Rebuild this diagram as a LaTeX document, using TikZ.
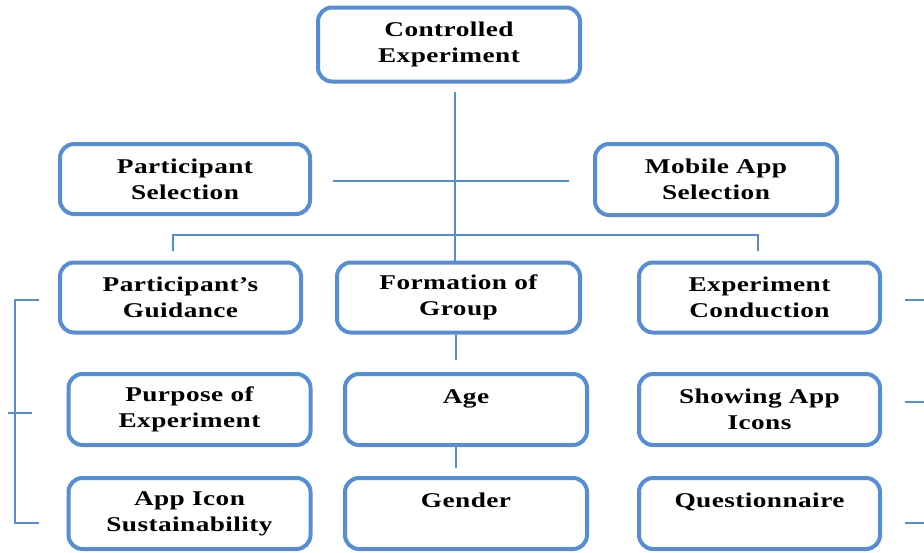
\documentclass[tikz,border=0pt]{standalone}
\usepackage{fontspec}
\setmainfont{Liberation Serif}[FakeStretch=1.3, LetterSpace=2]
\definecolor{boxblue}{RGB}{85,142,213}
\begin{document}
\begin{tikzpicture}[x=1pt,y=-1pt,
  box/.style={draw=boxblue, line width=4pt, rounded corners=14pt, fill=white,
    align=center, font=\bfseries\fontsize{21}{26}\selectfont,
    minimum width=241pt, minimum height=70pt, inner sep=0pt},
  link/.style={draw=boxblue, line width=1.8pt}]
\useasboundingbox (0,0) rectangle (924,552);
% boxes
\node[box, minimum width=262pt, minimum height=74pt] (top) at (449,44.5) {Controlled\\Experiment};
\node[box, minimum width=250pt, minimum height=70pt] (ps) at (185,179) {Participant\\Selection};
\node[box, minimum width=242pt, minimum height=71pt] (ma) at (716,179.5) {Mobile App\\Selection};
\node[box, minimum width=241pt] (pg) at (180.5,297.5) {Participant’s\\Guidance};
\node[box, minimum width=243pt] (fg) at (458.5,297.5) {Formation of\\Group};
\node[box, minimum width=241pt] (ec) at (759.5,297.5) {Experiment\\Conduction};
\node[box, minimum width=242pt, minimum height=71pt] (pe) at (189.5,409.5) {Purpose of\\Experiment};
\node[box, minimum width=242pt, minimum height=71pt] (age) at (466,409.5) {Age\\\mbox{}};
\node[box, minimum width=241pt, minimum height=71pt] (sai) at (759.5,409.5) {Showing App\\Icons};
\node[box, minimum width=242pt, minimum height=71pt] (ais) at (189.5,513.5) {App Icon\\Sustainability};
\node[box, minimum width=242pt, minimum height=71pt] (gen) at (466,513.5) {Gender\\\mbox{}};
\node[box, minimum width=241pt, minimum height=71pt] (q) at (759.5,513.5) {Questionnaire\\\mbox{}};
% coordinates
\coordinate (spine) at (455,92);
\coordinate (bl) at (173,251);
\coordinate (br) at (758,251);
\coordinate (lb1) at (39,300);
\coordinate (lb2) at (39,523);
\coordinate (lt1) at (8,413);
\coordinate (lt2) at (32,413);
\coordinate (r1) at (905,300);
\coordinate (r2) at (905,402);
\coordinate (r3) at (905,523);
% connectors
\draw[link] (spine) -- (spine |- fg.north);
\draw[link] ([xshift=21pt]ps.east |- 0,181) -- ([xshift=-24pt]ma.west |- 0,181);
\draw[link] (bl) -- (173,235) -| (br);
\draw[link, shorten >=12pt] (fg.south -| 456,0) -- (age.north -| 456,0);
\draw[link, shorten >=8pt] (age.south -| 456,0) -- (gen.north -| 456,0);
\draw[link] (lb1) -- (15,300) -- (15,523) -- (lb2);
\draw[link] (lt1) -- (lt2);
\draw[link] (r1) -- ++(20,0);
\draw[link] (r2) -- ++(20,0);
\draw[link] (r3) -- ++(20,0);
\end{tikzpicture}
\end{document}
